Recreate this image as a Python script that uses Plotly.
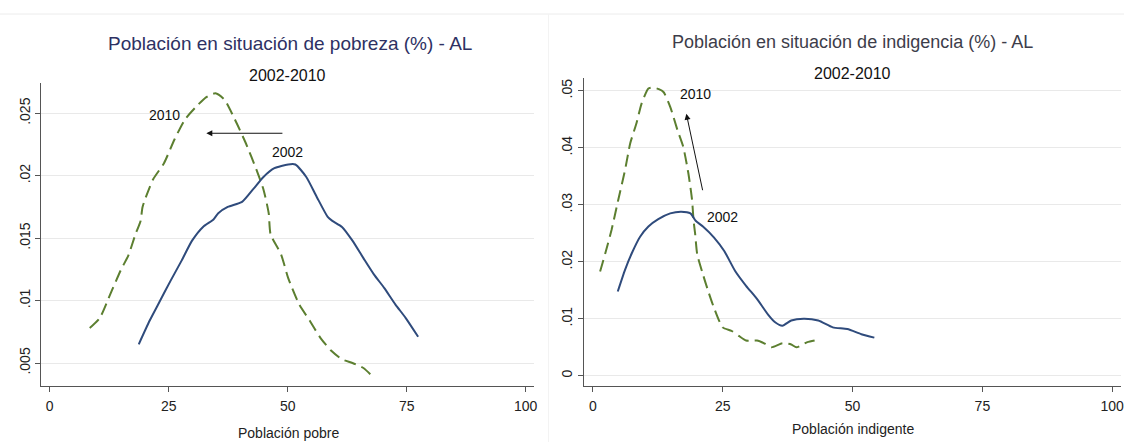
import plotly.graph_objects as go

# ---------------- data ----------------
pob_x_2010 = [8.4, 10.5, 12.7, 15.0, 16.5, 18.0, 19.1, 19.5, 21.7, 24.0, 26.2, 28.4, 30.7, 32.9, 34.8,
              36.7, 38.9, 41.2, 43.4, 44.9, 46.0, 46.4, 48.6, 50.1, 52.4, 54.6, 56.9, 59.1, 61.4,
              63.6, 65.9, 67.6]
pob_y_2010 = [.0078, .0086, .0105, .0125, .0136, .0153, .0164, .0175, .0197, .0210, .0229, .0245, .0255,
              .0263, .0266, .0261, .0245, .0226, .0205, .0189, .0170, .0153, .0137, .0118, .0097,
              .0084, .0070, .0060, .0053, .0050, .0046, .0040]

pob_x_2002 = [18.7, 21.0, 23.2, 25.4, 27.7, 29.9, 32.2, 34.4, 35.4, 37.4, 40.4, 42.7, 44.9, 47.2, 50.1,
              51.6, 53.9, 56.1, 58.4, 59.3, 61.4, 63.6, 65.9, 68.1, 70.3, 72.6, 74.8, 77.4]
pob_y_2002 = [.0065, .0084, .0100, .0116, .0132, .0148, .0159, .0165, .0170, .0175, .0179, .0189, .0199,
              .0206, .0209, .0209, .0199, .0183, .0167, .0164, .0159, .0148, .0134, .0121, .0110,
              .0097, .0086, .0071]

ind_x_2010 = [1.4, 2.4, 3.6, 4.9, 6.2, 7.2, 8.4, 9.4, 10.7, 11.5, 12.7, 13.6, 14.9, 16.3, 17.4, 18.4,
              19.1, 19.4, 19.7, 20.1, 21.2, 22.2, 23.3, 25.0, 26.7, 28.1, 29.5, 31.6, 33.0, 34.4,
              36.5, 38.2, 39.2, 41.3, 42.7]
ind_y_2010 = [.0183, .0215, .0256, .0309, .0361, .0408, .0443, .0478, .0504, .0506, .0503, .0498, .0472,
              .0431, .0402, .0355, .0309, .0272, .0249, .0213, .0178, .0149, .0120, .0085, .0079,
              .0070, .0062, .0062, .0057, .0050, .0057, .0055, .0050, .0059, .0062]

ind_x_2002 = [4.8, 6.2, 7.5, 9.1, 10.7, 12.6, 14.9, 17.0, 18.8, 19.8, 21.2, 23.3, 25.3, 27.4, 29.5,
              31.6, 33.7, 35.1, 36.5, 38.2, 40.6, 43.4, 46.2, 49.0, 51.7, 54.2]
ind_y_2002 = [.0148, .0186, .0215, .0244, .0262, .0275, .0285, .0288, .0285, .0272, .0262, .0243,
              .0219, .0184, .0158, .0135, .0108, .0094, .0088, .0097, .0100, .0097, .0085, .0082,
              .0073, .0067]

x_ticks = [0, 25, 50, 75, 100]
x_ticktext = ["0", "25", "50", "75", "100"]
pob_yticks = [.005, .01, .015, .02, .025]
pob_yticktext = [".005", ".01", ".015", ".02", ".025"]
ind_yticks = [0, .01, .02, .03, .04, .05]
ind_yticktext = ["0", ".01", ".02", ".03", ".04", ".05"]

title_left = "Población en situación de pobreza (%) - AL"
title_right = "Población en situación de indigencia (%) - AL"
subtitle = "2002-2010"
xtitle_left = "Población pobre"
xtitle_right = "Población indigente"

# ---------------- styling ----------------
W, H = 1127, 442
FONT = "Liberation Sans, Arial, sans-serif"
C2010 = "#5c7f30"
C2002 = "#2f4b7c"
AXC = "#555555"
GRID = "#e9e9e9"


def px(x):
    return x / W


def py(y):
    return 1 - y / H


fig = go.Figure()

fig.add_trace(go.Scatter(x=pob_x_2010, y=pob_y_2010, mode="lines", xaxis="x", yaxis="y",
                         line=dict(color=C2010, width=2, dash="12px,6px", shape="spline", smoothing=0.6)))
fig.add_trace(go.Scatter(x=pob_x_2002, y=pob_y_2002, mode="lines", xaxis="x", yaxis="y",
                         line=dict(color=C2002, width=2, shape="spline", smoothing=0.6)))
fig.add_trace(go.Scatter(x=ind_x_2010, y=ind_y_2010, mode="lines", xaxis="x2", yaxis="y2",
                         line=dict(color=C2010, width=2, dash="12px,6px", shape="spline", smoothing=0.6)))
fig.add_trace(go.Scatter(x=ind_x_2002, y=ind_y_2002, mode="lines", xaxis="x2", yaxis="y2",
                         line=dict(color=C2002, width=2, shape="spline", smoothing=0.6)))

common_x = dict(tickmode="array", tickvals=x_ticks, ticktext=x_ticktext, showgrid=False, zeroline=False,
                showline=True, linecolor=AXC, linewidth=1, ticks="outside", ticklen=5, tickcolor=AXC,
                tickfont=dict(family=FONT, size=14, color="#222"), ticklabelstandoff=3)
common_y = dict(tickmode="array", showgrid=True, gridcolor=GRID, gridwidth=1, zeroline=False,
                showline=True, linecolor=AXC, linewidth=1, ticks="outside", ticklen=5, tickcolor=AXC,
                tickangle=-90, tickfont=dict(family=FONT, size=14, color="#222"))

fig.update_layout(
    width=W, height=H, margin=dict(l=0, r=0, t=0, b=0, pad=0),
    paper_bgcolor="white", plot_bgcolor="white", showlegend=False,
    xaxis=dict(common_x, domain=[px(41.3), px(535.7)], range=[-1.8, 101.8], anchor="y"),
    yaxis=dict(common_y, domain=[py(385.5), py(83.3)], range=[.0032, .0274], anchor="x",
               tickvals=pob_yticks, ticktext=pob_yticktext),
    xaxis2=dict(common_x, domain=[px(585.3), px(1124.3)], range=[-1.75, 101.75], anchor="y2"),
    yaxis2=dict(common_y, domain=[py(385.5), py(78.3)], range=[-.0017, .0522], anchor="x2",
                tickvals=ind_yticks, ticktext=ind_yticktext),
)

ann = []
# titles
ann.append(dict(text=title_left, x=px(290.8), y=py(43.5), xref="paper", yref="paper", showarrow=False,
                xanchor="center", yanchor="middle", font=dict(family=FONT, size=19, color="#2e3163")))
ann.append(dict(text=subtitle, x=px(288.5), y=py(75), xref="paper", yref="paper", showarrow=False,
                xanchor="center", yanchor="middle", font=dict(family=FONT, size=16, color="#111")))
ann.append(dict(text=title_right, x=px(855), y=py(42.5), xref="paper", yref="paper", showarrow=False,
                xanchor="center", yanchor="middle", font=dict(family=FONT, size=18, color="#3d3d4a")))
ann.append(dict(text=subtitle, x=px(855), y=py(73.5), xref="paper", yref="paper", showarrow=False,
                xanchor="center", yanchor="middle", font=dict(family=FONT, size=16, color="#111")))
# axis titles
ann.append(dict(text=xtitle_left, x=px(289), y=py(433), xref="paper", yref="paper", showarrow=False,
                xanchor="center", yanchor="middle", font=dict(family=FONT, size=14, color="#222")))
ann.append(dict(text=xtitle_right, x=px(855), y=py(429), xref="paper", yref="paper", showarrow=False,
                xanchor="center", yanchor="middle", font=dict(family=FONT, size=14, color="#222")))
# labels in left panel
ann.append(dict(text="2010", x=24.1, y=.0249, xref="x", yref="y", showarrow=False,
                font=dict(family=FONT, size=14, color="#111")))
ann.append(dict(text="2002", x=50.0, y=.0219, xref="x", yref="y", showarrow=False,
                font=dict(family=FONT, size=14, color="#111")))
ann.append(dict(text="", x=32.9, y=.0234, ax=49.2, ay=.0234, xref="x", yref="y", axref="x", ayref="y",
                showarrow=True, arrowhead=2, arrowsize=1.2, arrowwidth=1, arrowcolor="#111"))
# labels in right panel
ann.append(dict(text="2010", x=19.8, y=.0495, xref="x2", yref="y2", showarrow=False,
                font=dict(family=FONT, size=14, color="#111")))
ann.append(dict(text="2002", x=25.0, y=.0279, xref="x2", yref="y2", showarrow=False,
                font=dict(family=FONT, size=14, color="#111")))
ann.append(dict(text="", x=18.0, y=.0460, ax=21.2, ay=.0323, xref="x2", yref="y2", axref="x2", ayref="y2",
                showarrow=True, arrowhead=2, arrowsize=1.2, arrowwidth=1, arrowcolor="#111"))
fig.update_layout(annotations=ann)

# faint frame lines of the original image
fig.add_shape(type="line", xref="paper", yref="paper", x0=0, x1=1, y0=py(14), y1=py(14),
              line=dict(color="#ececec", width=1))
fig.add_shape(type="line", xref="paper", yref="paper", x0=px(550), x1=px(550), y0=0, y1=py(14),
              line=dict(color="#f3f3f3", width=1))

fig.write_html("out.html", config={"displayModeBar": False},
               post_script="document.body.style.margin='0';")
